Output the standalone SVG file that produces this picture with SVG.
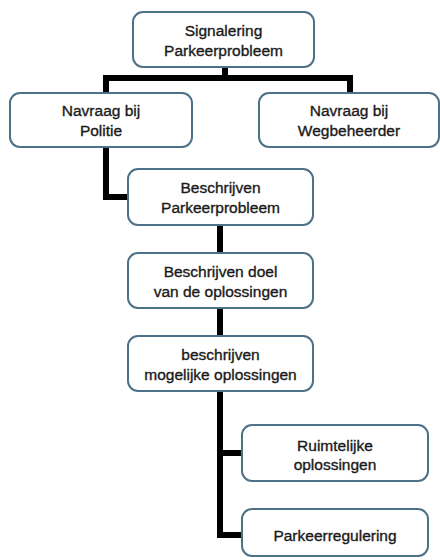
<svg xmlns="http://www.w3.org/2000/svg" width="440" height="560" viewBox="0 0 440 560">
<style>
.box{fill:#fff;stroke:#4d7187;stroke-width:2}
.lbl{font-family:"Liberation Sans",Arial,sans-serif;font-size:15.5px;fill:#1a1a1a;stroke:#1a1a1a;stroke-width:0.35;text-anchor:middle}
.con{fill:none;stroke:#000;stroke-width:6;stroke-linejoin:miter}
</style>
<rect width="440" height="560" fill="#fff"/>
<g id="connectors">
<path class="con" d="M225,67 V78 M106,93 V78 H350 V93"/>
<path class="con" d="M106,147 V197 H128"/>
<path class="con" d="M220,225 V253"/>
<path class="con" d="M220,308 V336"/>
<path class="con" d="M220,391 V535 H242 M220,453 H242"/>
</g>
<g id="n1"><rect class="box" x="133" y="12" width="181" height="55" rx="10"/>
<text class="lbl" x="223.5" y="36">Signalering</text><text class="lbl" x="223.5" y="56">Parkeerprobleem</text></g>
<g id="n2"><rect class="box" x="10" y="93" width="182" height="54" rx="10"/>
<text class="lbl" x="101" y="116">Navraag bij</text><text class="lbl" x="101" y="136">Politie</text></g>
<g id="n3"><rect class="box" x="259" y="93" width="180" height="54" rx="10"/>
<text class="lbl" x="349" y="116">Navraag bij</text><text class="lbl" x="349" y="136">Wegbeheerder</text></g>
<g id="n4"><rect class="box" x="128" y="169" width="185" height="56" rx="10"/>
<text class="lbl" x="220.5" y="193">Beschrijven</text><text class="lbl" x="220.5" y="213">Parkeerprobleem</text></g>
<g id="n5"><rect class="box" x="128" y="253" width="185" height="55" rx="10"/>
<text class="lbl" x="220.5" y="277">Beschrijven doel</text><text class="lbl" x="220.5" y="297">van de oplossingen</text></g>
<g id="n6"><rect class="box" x="128" y="336" width="185" height="55" rx="10"/>
<text class="lbl" x="220.5" y="360">beschrijven</text><text class="lbl" x="220.5" y="380">mogelijke oplossingen</text></g>
<g id="n7"><rect class="box" x="242" y="425" width="186" height="56" rx="10"/>
<text class="lbl" x="335" y="451">Ruimtelijke</text><text class="lbl" x="335" y="470">oplossingen</text></g>
<g id="n8"><rect class="box" x="242" y="509" width="186" height="47" rx="10"/>
<text class="lbl" x="335" y="541">Parkeerregulering</text></g>
</svg>
